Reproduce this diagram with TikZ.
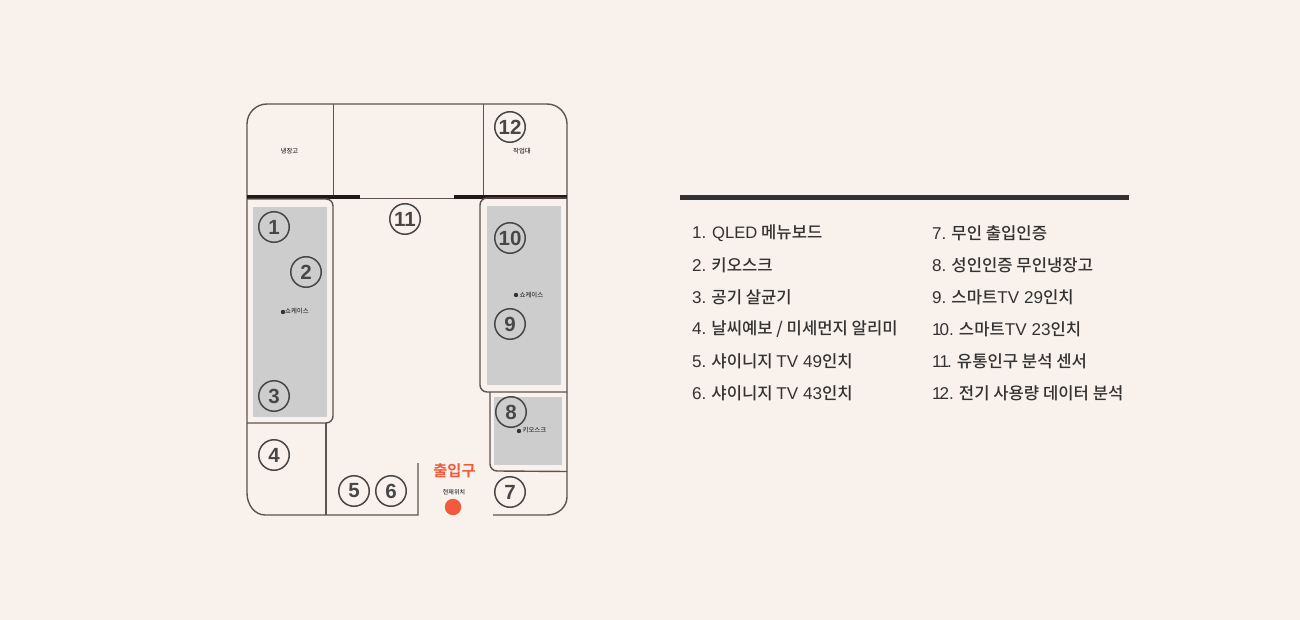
\documentclass[tikz,border=0pt]{standalone}
\usepackage{fontspec}
\setmainfont{Noto Sans CJK KR Medium}[BoldFont=Noto Sans CJK KR Bold]
\newfontfamily\latfont{Liberation Sans}
\newcommand{\lat}[1]{{\latfont\fontsize{17.1}{17}\selectfont #1}}
\definecolor{paper}{HTML}{F8F1EC}
\definecolor{wall}{HTML}{5E534F}
\definecolor{darkwall}{HTML}{231815}
\definecolor{case}{HTML}{CDCDCD}
\definecolor{ink}{HTML}{333333}
\definecolor{exitred}{HTML}{F15A3C}
\tikzset{
  wallline/.style={draw=wall,line width=1.4pt},
  numcircle/.style={circle,draw=ink!90,line width=1.5pt,minimum size=30.5pt,inner sep=0pt,text=ink!90,font=\latfont\fontsize{20.5}{20}\selectfont\bfseries},
  listitem/.style={anchor=west,inner sep=0pt,text=ink,font=\fontsize{16.65}{17}\selectfont},
  tinytext/.style={inner sep=0pt,text=ink,font=\fontsize{6.4}{6}\selectfont}
}
\begin{document}
\begin{tikzpicture}[x=1pt,y=-1pt]

\fill[paper] (0,0) rectangle (1300,620);
\useasboundingbox (0,0) rectangle (1300,620);

% gray cases
\fill[case] (253,207) rectangle (327,417);
\fill[case] (487,206) rectangle (561,385);
\fill[case] (494,397) rectangle (562,465);

% outer wall
\draw[wallline] (418,463)--(418,515)--(265,515) arc (90:180:18 and 22)--(247,124) arc (180:270:20)--(547,104) arc (270:360:20)--(567,497) arc (0:90:20 and 18)--(493,515);

% top room
\draw[wallline,line width=1pt] (333,104)--(333,197);
\draw[wallline,line width=1pt] (483.5,104)--(483.5,197);
\draw[wallline,line width=1pt] (360,198.3)--(454,198.3);
\draw[darkwall,line width=4pt] (247,197)--(360,197);
\draw[darkwall,line width=4pt] (454,197)--(567,197);

% left block
\draw[wallline] (247,199)--(326,199) arc (270:360:7)--(333,416) arc (0:90:7)--(247,423);
\draw[wallline] (326,423)--(326,515);

% right block
\draw[wallline] (567,198)--(487,198) arc (270:180:7)--(480,385) arc (180:90:7)--(567,392);
\draw[wallline] (490,392)--(490,464) arc (180:90:7)--(567,471.5);

\node[numcircle] (n1) at (274,227) {1};
\node[numcircle] (n2) at (306,272) {2};
\node[numcircle] (n3) at (274,396) {3};
\node[numcircle] (n4) at (274,455) {4};
\node[numcircle] (n5) at (354,491) {5};
\node[numcircle] (n6) at (391,491) {6};
\node[numcircle] (n7) at (510,492) {7};
\node[numcircle] (n8) at (511,412) {8};
\node[numcircle] (n9) at (510,324) {9};
\node[numcircle] (n10) at (510,238) {10};
\node[numcircle] (n11) at (405,219) {11};
\node[numcircle] (n12) at (510,127) {12};

\node[tinytext] (fridge) at (289.5,151) {냉장고};
\node[tinytext] (bench) at (522,151) {작업대};
\fill[ink] (283,312) circle (2.2pt);
\node[tinytext,anchor=west] (showleft) at (285,311.5) {쇼케이스};
\fill[ink] (516,295) circle (2.2pt);
\node[tinytext,anchor=west] (showright) at (519.5,295) {쇼케이스};
\fill[ink] (519,431) circle (2.2pt);
\node[tinytext,anchor=west] (kiosk) at (522.5,430.5) {키오스크};

\node[inner sep=0pt,text=exitred,font=\fontsize{15.3}{15}\selectfont\bfseries] (exit) at (454.5,471) {출입구};
\node[tinytext,font=\fontsize{6}{6}\selectfont] (here) at (454,492.5) {현재위치};
\fill[exitred] (453,507) circle (8.2pt);

% legend
\draw[ink,line width=5pt] (680,197.5)--(1129,197.5);

\node[listitem] (a1) at (692,233) {\lat{1.\ \kern1pt{\fontsize{16.6}{17}\selectfont QLED}} 메뉴보드};
\node[listitem] (a2) at (692,265) {\lat{2.} 키오스크};
\node[listitem] (a3) at (692,297) {\lat{3.} 공기 살균기};
\node[listitem] (a4) at (692,329) {\lat{4.} 날씨예보 / 미세먼지 알리미};
\node[listitem] (a5) at (692,361) {\lat{5.} 샤이니지 \lat{TV 49}인치};
\node[listitem] (a6) at (692,393) {\lat{6.} 샤이니지 \lat{TV 43}인치};
\node[listitem] (b7) at (932,233) {\lat{7.} 무인 출입인증};
\node[listitem] (b8) at (932,265) {\lat{8.} 성인인증 무인냉장고};
\node[listitem] (b9) at (932,297) {\lat{9.} 스마트\lat{TV 29}인치};
\node[listitem] (b10) at (932,329) {\lat{1\kern-2pt 0.} 스마트\lat{TV 23}인치};
\node[listitem] (b11) at (932,361) {\lat{1\kern-2pt 1\kern-2pt.} 유통인구 분석 센서};
\node[listitem] (b12) at (932,393) {\lat{1\kern-2pt 2.} 전기 사용량 데이터 분석};

\end{tikzpicture}
\end{document}
